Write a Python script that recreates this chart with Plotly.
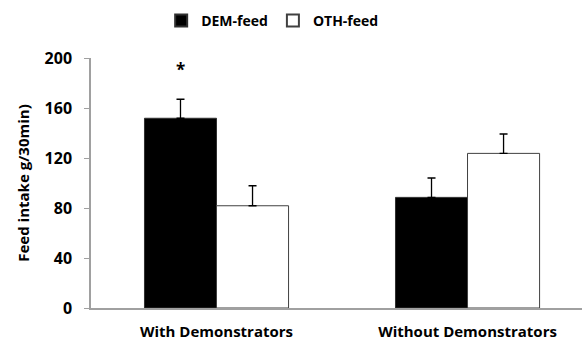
import plotly.graph_objects as go

categories = ["With Demonstrators", "Without Demonstrators"]
dem_feed = [151.8, 88.5]
dem_err = [15.2, 15.5]
oth_feed = [81.8, 123.7]
oth_err = [16.0, 15.5]
y_ticks = [0, 40, 80, 120, 160, 200]

FONT = "Open Sans"

fig = go.Figure()
fig.add_trace(go.Bar(
    name="DEM-feed", x=categories, y=dem_feed,
    marker=dict(color="black", line=dict(color="#303030", width=1)),
    error_y=dict(type="data", array=dem_err, arrayminus=[0, 0], symmetric=False,
                 color="black", thickness=1.3, width=4),
))
fig.add_trace(go.Bar(
    name="OTH-feed", x=categories, y=oth_feed,
    marker=dict(color="white", line=dict(color="#404040", width=1)),
    error_y=dict(type="data", array=oth_err, arrayminus=[0, 0], symmetric=False,
                 color="black", thickness=1.3, width=4),
))

fig.add_annotation(x=categories[0], y=191, text="*", showarrow=False, xref="x", yref="y",
                   xshift=-36, font=dict(family=FONT, size=17, color="black", weight="bold"))

fig.update_layout(
    width=582, height=342,
    margin=dict(l=91, r=0, t=58, b=34),
    paper_bgcolor="white", plot_bgcolor="white",
    barmode="group", bargap=0.426, bargroupgap=0,
    font=dict(family=FONT, color="black"),
    showlegend=True,
    legend=dict(orientation="h", x=0.37, xanchor="center", y=1.148, yanchor="middle",
                font=dict(family=FONT, size=14, color="black", weight="bold"),
                itemwidth=30, traceorder="normal", itemsizing="constant"),
    xaxis=dict(range=[-0.5, 1.456], showline=True, linecolor="#a0a0a0", linewidth=1.5,
               ticks="", tickfont=dict(family=FONT, size=15, color="black", weight="bold"),
               ticklabelstandoff=9,
               showgrid=False, zeroline=False, automargin=False),
    yaxis=dict(range=[0, 200], tickvals=y_ticks, showline=True, linecolor="#a0a0a0",
               linewidth=1.5, ticks="outside", ticklen=5, tickcolor="#a0a0a0",
               tickfont=dict(family=FONT, size=16, color="black", weight="bold"),
               ticklabelstandoff=9, automargin=False,
               showgrid=False, zeroline=False,
               title=dict(text="Feed intake g/30min)", standoff=11,
                          font=dict(family=FONT, size=15, color="black", weight="bold"))),
)

fig.write_html("out.html")
